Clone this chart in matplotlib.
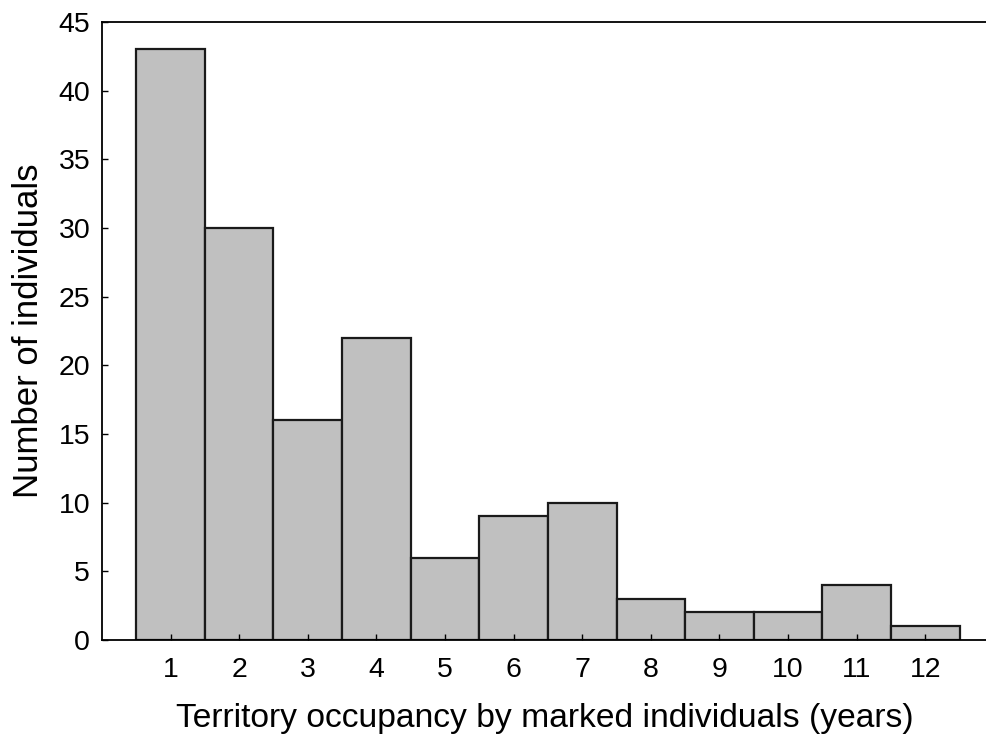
import matplotlib
matplotlib.use('Agg')
import matplotlib.pyplot as plt

years = [1, 2, 3, 4, 5, 6, 7, 8, 9, 10, 11, 12]
counts = [43, 30, 16, 22, 6, 9, 10, 3, 2, 2, 4, 1]
yticks = [0, 5, 10, 15, 20, 25, 30, 35, 40, 45]

plt.rcParams['font.family'] = ['Liberation Sans', 'DejaVu Sans']

fig = plt.figure(figsize=(9.87, 7.45), dpi=100)
ax = fig.add_axes([0.1033, 0.141, 0.8967, 0.8295])

ax.bar(years, counts, width=1.0, color='#c0c0c0', edgecolor='#1a1a1a', linewidth=1.6)

ax.set_xlim(0, 12.9)
ax.set_ylim(0, 45)
ax.set_xticks(years)
ax.set_yticks(yticks)
ax.tick_params(direction='in', length=4, width=1, color='black', labelsize=20.5)
ax.tick_params(axis='y', pad=8.5)
ax.tick_params(axis='x', pad=12.5)

for s in ['left', 'top', 'bottom']:
    ax.spines[s].set_linewidth(1.3)
ax.spines['right'].set_visible(False)

ax.set_xlabel('Territory occupancy by marked individuals (years)', fontsize=24.2, labelpad=14)
ax.set_ylabel('Number of individuals', fontsize=25, labelpad=10)

fig.savefig('out.png', dpi=100)
